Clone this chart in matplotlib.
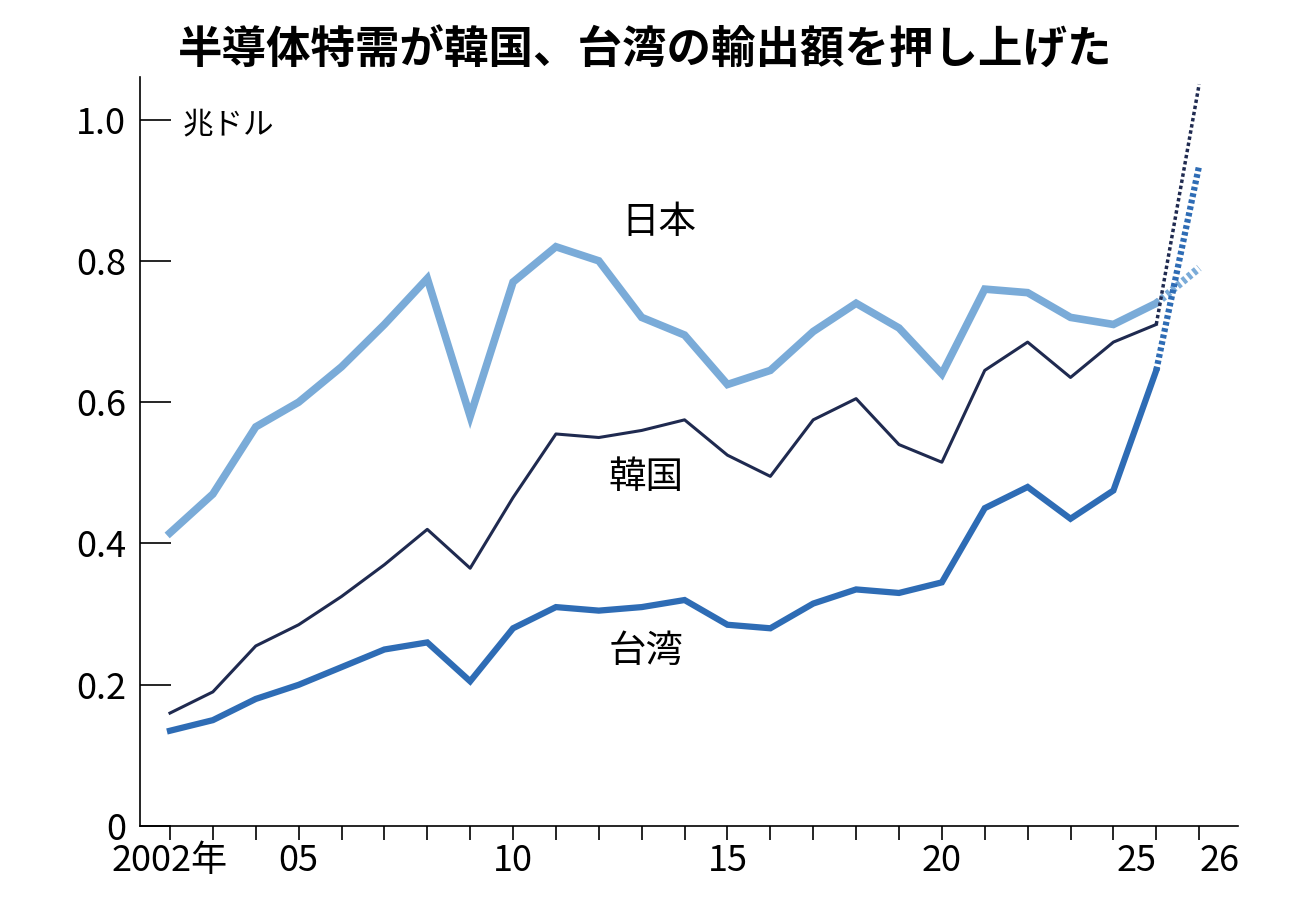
import matplotlib
matplotlib.use("Agg")
import matplotlib.pyplot as plt

plt.rcParams['font.family'] = ['Noto Sans CJK JP', 'DejaVu Sans']

years = list(range(2002, 2026))
japan = [0.415, 0.47, 0.565, 0.6, 0.65, 0.71, 0.775, 0.58, 0.77, 0.82, 0.80, 0.72,
         0.695, 0.625, 0.645, 0.70, 0.74, 0.705, 0.64, 0.76, 0.755, 0.72, 0.71, 0.74]
korea = [0.16, 0.19, 0.255, 0.285, 0.325, 0.37, 0.42, 0.365, 0.465, 0.555, 0.55, 0.56,
         0.575, 0.525, 0.495, 0.575, 0.605, 0.54, 0.515, 0.645, 0.685, 0.635, 0.685, 0.71]
taiwan = [0.135, 0.15, 0.18, 0.2, 0.225, 0.25, 0.26, 0.205, 0.28, 0.31, 0.305, 0.31,
          0.32, 0.285, 0.28, 0.315, 0.335, 0.33, 0.345, 0.45, 0.48, 0.435, 0.475, 0.645]
forecast_year = 2026
japan_2026, korea_2026, taiwan_2026 = 0.79, 1.05, 0.935

c_jp, c_kr, c_tw = '#7aabd8', '#1f2a50', '#2e6cb5'

fig = plt.figure(figsize=(12.9, 8.97), dpi=100)
ax = fig.add_axes([0.1085, 0.079, 0.851, 0.835])

ax.plot(years, japan, color=c_jp, lw=5.5, solid_joinstyle='miter')
ax.plot(years, taiwan, color=c_tw, lw=4.5, solid_joinstyle='miter')
ax.plot(years, korea, color=c_kr, lw=2.2)
ax.plot([years[-1], forecast_year], [japan[-1], japan_2026], color=c_jp, lw=5.5, ls=(0, (0.5, 0.4)))
ax.plot([years[-1], forecast_year], [taiwan[-1], taiwan_2026], color=c_tw, lw=4.5, ls=(0, (0.6, 0.45)))
ax.plot([years[-1], forecast_year], [korea[-1], korea_2026], color=c_kr, lw=2.5, ls=(0, (1, 0.8)))

ax.set_xlim(2001.3, 2026.9)
ax.set_ylim(0, 1.06)
for s in ['top', 'right']:
    ax.spines[s].set_visible(False)
ax.spines['left'].set_linewidth(1.2)
ax.spines['bottom'].set_linewidth(1.2)

ax.set_yticks([0, 0.2, 0.4, 0.6, 0.8, 1.0])
ax.set_yticklabels(['0', '0.2', '0.4', '0.6', '0.8', '1.0'], fontsize=26)
ax.tick_params(axis='y', direction='in', length=22, width=1.2, pad=10)
ax.set_xticks(list(range(2002, 2027)))
ax.set_xticklabels(['2002年' if y == 2002 else (f'{y % 100:02d}' if y in (2005, 2010, 2015, 2020, 2025, 2026) else '')
                    for y in range(2002, 2027)], fontsize=26)
ax.tick_params(axis='x', direction='out', length=10, width=1.2, pad=2)
for lab in ax.get_xticklabels():
    if lab.get_text() == '25':
        lab.set_ha('right')
    elif lab.get_text() == '26':
        lab.set_ha('left')

ax.text(2002.3, 0.993, '兆ドル', fontsize=22, va='center', ha='left')
ax.text(2013.4, 0.854, '日本', fontsize=27, ha='center', va='center')
ax.text(2013.1, 0.494, '韓国', fontsize=27, ha='center', va='center')
ax.text(2013.1, 0.247, '台湾', fontsize=27, ha='center', va='center')

fig.text(0.5, 0.918, '半導体特需が韓国、台湾の輸出額を押し上げた', fontsize=32,
         fontweight='bold', ha='center', va='bottom')

fig.savefig('out.png', dpi=100)
